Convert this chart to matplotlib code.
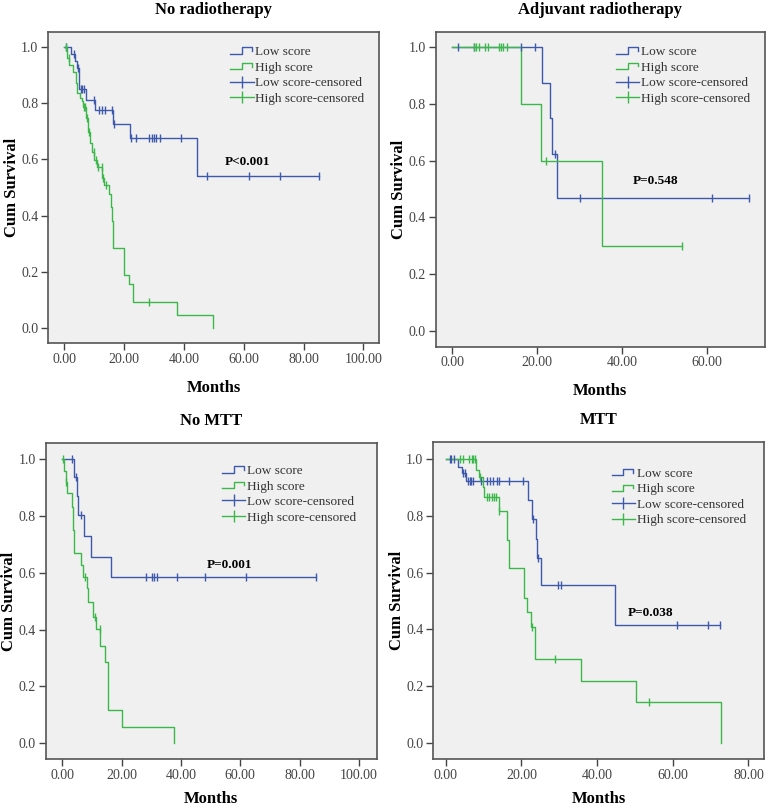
import matplotlib
matplotlib.use("Agg")
import matplotlib.pyplot as plt
from matplotlib.lines import Line2D
from matplotlib.legend_handler import HandlerBase

plt.rcParams['font.family'] = ['Liberation Serif', 'DejaVu Serif']

# ---- datos (tiempo en meses, supervivencia acumulada) ----
# Panel 1: No radiotherapy
low1_t = [0, 2.2, 3.5, 4.3, 4.9, 7.4, 10.3, 16.2, 22.0, 44.3, 85.2]
low1_s = [1.0, 0.975, 0.95, 0.925, 0.85, 0.8125, 0.775, 0.725, 0.675, 0.54, 0.54]
low1_ct = [0.5, 3.2, 4.6, 5.5, 6.0, 6.5, 10.0, 11.7, 12.7, 13.6, 15.9, 16.5, 22.4, 24.1,
           28.2, 29.2, 30.0, 30.6, 32.1, 38.9, 47.6, 61.6, 72.2, 85.2]
low1_cs = [1.0, 0.975, 0.925, 0.85, 0.85, 0.85, 0.8125, 0.775, 0.775, 0.775, 0.775, 0.725, 0.675, 0.675,
           0.675, 0.675, 0.675, 0.675, 0.675, 0.675, 0.54, 0.54, 0.54, 0.54]
high1_t = [0, 0.8, 1.6, 3.0, 3.8, 4.4, 5.2, 5.8, 6.4, 7.2, 7.8, 8.6, 9.1, 10.0, 10.9, 12.5, 13.4,
           15.0, 15.5, 15.8, 16.2, 20.0, 21.7, 22.9, 37.6, 49.8]
high1_s = [1.0, 0.96, 0.936, 0.91, 0.871, 0.836, 0.818, 0.806, 0.788, 0.746, 0.698, 0.657, 0.627,
           0.598, 0.574, 0.533, 0.509, 0.476, 0.43, 0.38, 0.286, 0.19, 0.157, 0.094, 0.047, 0.0]
high1_ct = [0.5, 1.5, 6.5, 7.0, 7.5, 8.3, 9.8, 10.5, 11.3, 12.5, 13.0, 13.8, 28.3]
high1_cs = [1.0, 0.96, 0.788, 0.788, 0.746, 0.698, 0.627, 0.598, 0.574, 0.574, 0.533, 0.509, 0.094]

# Panel 2: Adjuvant radiotherapy
low2_t = [0, 21.0, 23.0, 23.4, 24.6, 69.8]
low2_s = [1.0, 0.875, 0.75, 0.625, 0.467, 0.467]
low2_ct = [1.4, 5.2, 16.2, 19.5, 24.2, 30.0, 61.2, 69.8]
low2_cs = [1.0, 1.0, 1.0, 1.0, 0.625, 0.467, 0.467, 0.467]
high2_t = [0, 16.2, 20.9, 35.3, 54.0]
high2_s = [1.0, 0.8, 0.6, 0.3, 0.3]
high2_ct = [5.0, 5.5, 6.2, 7.7, 8.3, 10.9, 11.4, 12.0, 12.8, 22.0, 54.0]
high2_cs = [1.0, 1.0, 1.0, 1.0, 1.0, 1.0, 1.0, 1.0, 1.0, 0.6, 0.3]

# Panel 3: No MTT
low3_t = [0, 3.9, 4.8, 5.2, 7.4, 9.7, 16.3, 85.7]
low3_s = [1.0, 0.938, 0.87, 0.803, 0.73, 0.656, 0.586, 0.586]
low3_ct = [3.4, 4.6, 6.2, 28.2, 30.4, 31.0, 32.0, 38.8, 48.0, 62.0, 85.7]
low3_cs = [1.0, 0.938, 0.803, 0.586, 0.586, 0.586, 0.586, 0.586, 0.586, 0.586, 0.586]
high3_t = [0, 0.6, 1.1, 1.5, 3.2, 3.6, 3.9, 6.2, 7.1, 8.2, 8.5, 10.4, 11.2, 12.7, 14.4,
           15.5, 20.2, 37.7]
high3_s = [1.0, 0.959, 0.92, 0.879, 0.832, 0.75, 0.668, 0.627, 0.586, 0.545, 0.496, 0.445,
           0.401, 0.342, 0.287, 0.117, 0.059, 0.0]
high3_ct = [0.2, 1.2, 7.7, 10.9, 12.7]
high3_cs = [1.0, 0.92, 0.586, 0.445, 0.401]

# Panel 4: MTT
low4_t = [0, 3.3, 4.2, 5.4, 21.8, 22.7, 23.9, 24.2, 25.2, 44.7, 72.5]
low4_s = [1.0, 0.973, 0.95, 0.923, 0.855, 0.79, 0.72, 0.65, 0.556, 0.415, 0.415]
low4_ct = [1.1, 1.5, 2.1, 4.5, 5.0, 6.0, 6.4, 6.8, 7.3, 9.3, 10.8, 11.7, 12.6, 13.5, 14.2,
           16.8, 20.4, 23.0, 24.5, 29.8, 30.4, 61.1, 69.4, 72.5]
low4_cs = [1.0, 1.0, 1.0, 0.95, 0.95, 0.923, 0.923, 0.923, 0.923, 0.923, 0.923, 0.923, 0.923,
           0.923, 0.923, 0.923, 0.923, 0.79, 0.65, 0.556, 0.556, 0.415, 0.415, 0.415]
high4_t = [0, 8.0, 8.9, 9.9, 10.2, 14.2, 16.1, 16.8, 20.7, 21.6, 22.5, 23.6, 35.8, 50.3, 72.7]
high4_s = [1.0, 0.961, 0.937, 0.9, 0.865, 0.818, 0.715, 0.615, 0.512, 0.462, 0.407, 0.294,
           0.219, 0.145, 0.0]
high4_ct = [3.8, 4.5, 6.2, 6.9, 7.3, 7.7, 9.1, 10.8, 11.5, 12.1, 12.7, 13.3, 14.2, 22.7, 28.9, 53.8]
high4_cs = [1.0, 1.0, 1.0, 1.0, 1.0, 1.0, 0.937, 0.865, 0.865, 0.865, 0.865, 0.865, 0.818,
            0.407, 0.294, 0.145]

titles = ["No radiotherapy", "Adjuvant radiotherapy", "No MTT", "MTT"]
pvals = ["P<0.001", "P=0.548", "P=0.001", "P=0.038"]
pval_pos = [(61.4, 0.592), (47.9, 0.528), (56.3, 0.627), (54.2, 0.456)]
xticks = [[0, 20, 40, 60, 80, 100], [0, 20, 40, 60], [0, 20, 40, 60, 80, 100], [0, 20, 40, 60, 80]]
xlims = [(-5.45, 105.2), (-3.9, 73.6), (-5.6, 106.0), (-3.36, 84.1)]
ylims = [(-0.053, 1.053), (-0.055, 1.052), (-0.056, 1.055), (-0.057, 1.059)]

paneles = [
    (low1_t, low1_s, low1_ct, low1_cs, high1_t, high1_s, high1_ct, high1_cs),
    (low2_t, low2_s, low2_ct, low2_cs, high2_t, high2_s, high2_ct, high2_cs),
    (low3_t, low3_s, low3_ct, low3_cs, high3_t, high3_s, high3_ct, high3_cs),
    (low4_t, low4_s, low4_ct, low4_cs, high4_t, high4_s, high4_ct, high4_cs),
]

# posiciones de los ejes en pixeles (izq, der, arriba, abajo)
W, H = 768, 809
boxes = [(48, 379, 32, 343), (435.7, 765, 32.3, 346.7), (45.7, 376.7, 443.3, 759.3), (433, 764, 442.3, 759)]
leg_anchor = [(0.955, 0.955), (0.954, 0.957), (0.937, 0.932), (0.945, 0.92)]
xlab_pad = [10, 10, 6.5, 6.5]

BLUE = '#3e58ac'
GREEN = '#3cb84a'
GRAY = '#444444'


class StepHandler(HandlerBase):
    # icono de escalon como el de SPSS
    def create_artists(self, legend, orig_handle, xdescent, ydescent, width, height, fontsize, trans):
        x0, y0 = -xdescent, -ydescent
        xs = [x0, x0 + 0.5 * width, x0 + 0.5 * width, x0 + 0.92 * width, x0 + 0.92 * width]
        ys = [y0 + 0.15 * height, y0 + 0.15 * height, y0 + 0.85 * height, y0 + 0.85 * height, y0 + 0.45 * height]
        l = Line2D(xs, ys, color=orig_handle.get_color(), lw=1.0)
        l.set_transform(trans)
        return [l]


fig = plt.figure(figsize=(W / 100, H / 100), dpi=100)

for i, (lt, ls, lct, lcs, ht, hs, hct, hcs) in enumerate(paneles):
    l, r, t, b = boxes[i]
    ax = fig.add_axes([l / W, 1 - b / H, (r - l) / W, (b - t) / H])
    ax.set_facecolor('#f0f0f0')

    ax.step(lt, ls, where='post', color=BLUE, lw=1.0)
    ax.step(ht, hs, where='post', color=GREEN, lw=1.0)
    ax.plot(lct, lcs, ls='none', marker='|', color=BLUE, ms=6, mew=1.0)
    ax.plot(hct, hcs, ls='none', marker='|', color=GREEN, ms=6, mew=1.0)

    ax.set_xlim(*xlims[i])
    ax.set_ylim(*ylims[i])
    ax.set_xticks(xticks[i])
    ax.set_xticklabels(['%.2f' % v for v in xticks[i]])
    ax.set_yticks([0, 0.2, 0.4, 0.6, 0.8, 1.0])
    ax.set_yticklabels(['%.1f' % v for v in [0, 0.2, 0.4, 0.6, 0.8, 1.0]])
    ax.tick_params(direction='out', length=5, width=1.0, color=GRAY, labelcolor=GRAY, labelsize=10, pad=2)
    for s in ax.spines.values():
        s.set_color('#555555')
        s.set_linewidth(1.2)

    ax.set_title(titles[i], fontsize=12, fontweight='bold', pad=13)
    ax.set_xlabel('Months', fontsize=12, fontweight='bold', labelpad=xlab_pad[i])
    ax.set_ylabel('Cum Survival', fontsize=12, fontweight='bold', labelpad=1)

    ax.text(pval_pos[i][0], pval_pos[i][1], pvals[i], fontsize=9.5, fontweight='bold',
            ha='center', va='center')

    h1 = Line2D([], [], color=BLUE)
    h2 = Line2D([], [], color=GREEN)
    h3 = Line2D([], [], color=BLUE, marker='|', ms=9, mew=1.0, lw=1.0)
    h4 = Line2D([], [], color=GREEN, marker='|', ms=9, mew=1.0, lw=1.0)
    ax.legend([h1, h2, h3, h4], ['Low score', 'High score', 'Low score-censored', 'High score-censored'],
              handler_map={h1: StepHandler(), h2: StepHandler()},
              loc='upper right', bbox_to_anchor=leg_anchor[i], frameon=False,
              borderpad=0, borderaxespad=0, handlelength=1.8, handletextpad=0.1,
              labelspacing=0.25, fontsize=9.5, labelcolor='#333333', markerfirst=True, numpoints=1)

fig.savefig('out.png', dpi=100)
